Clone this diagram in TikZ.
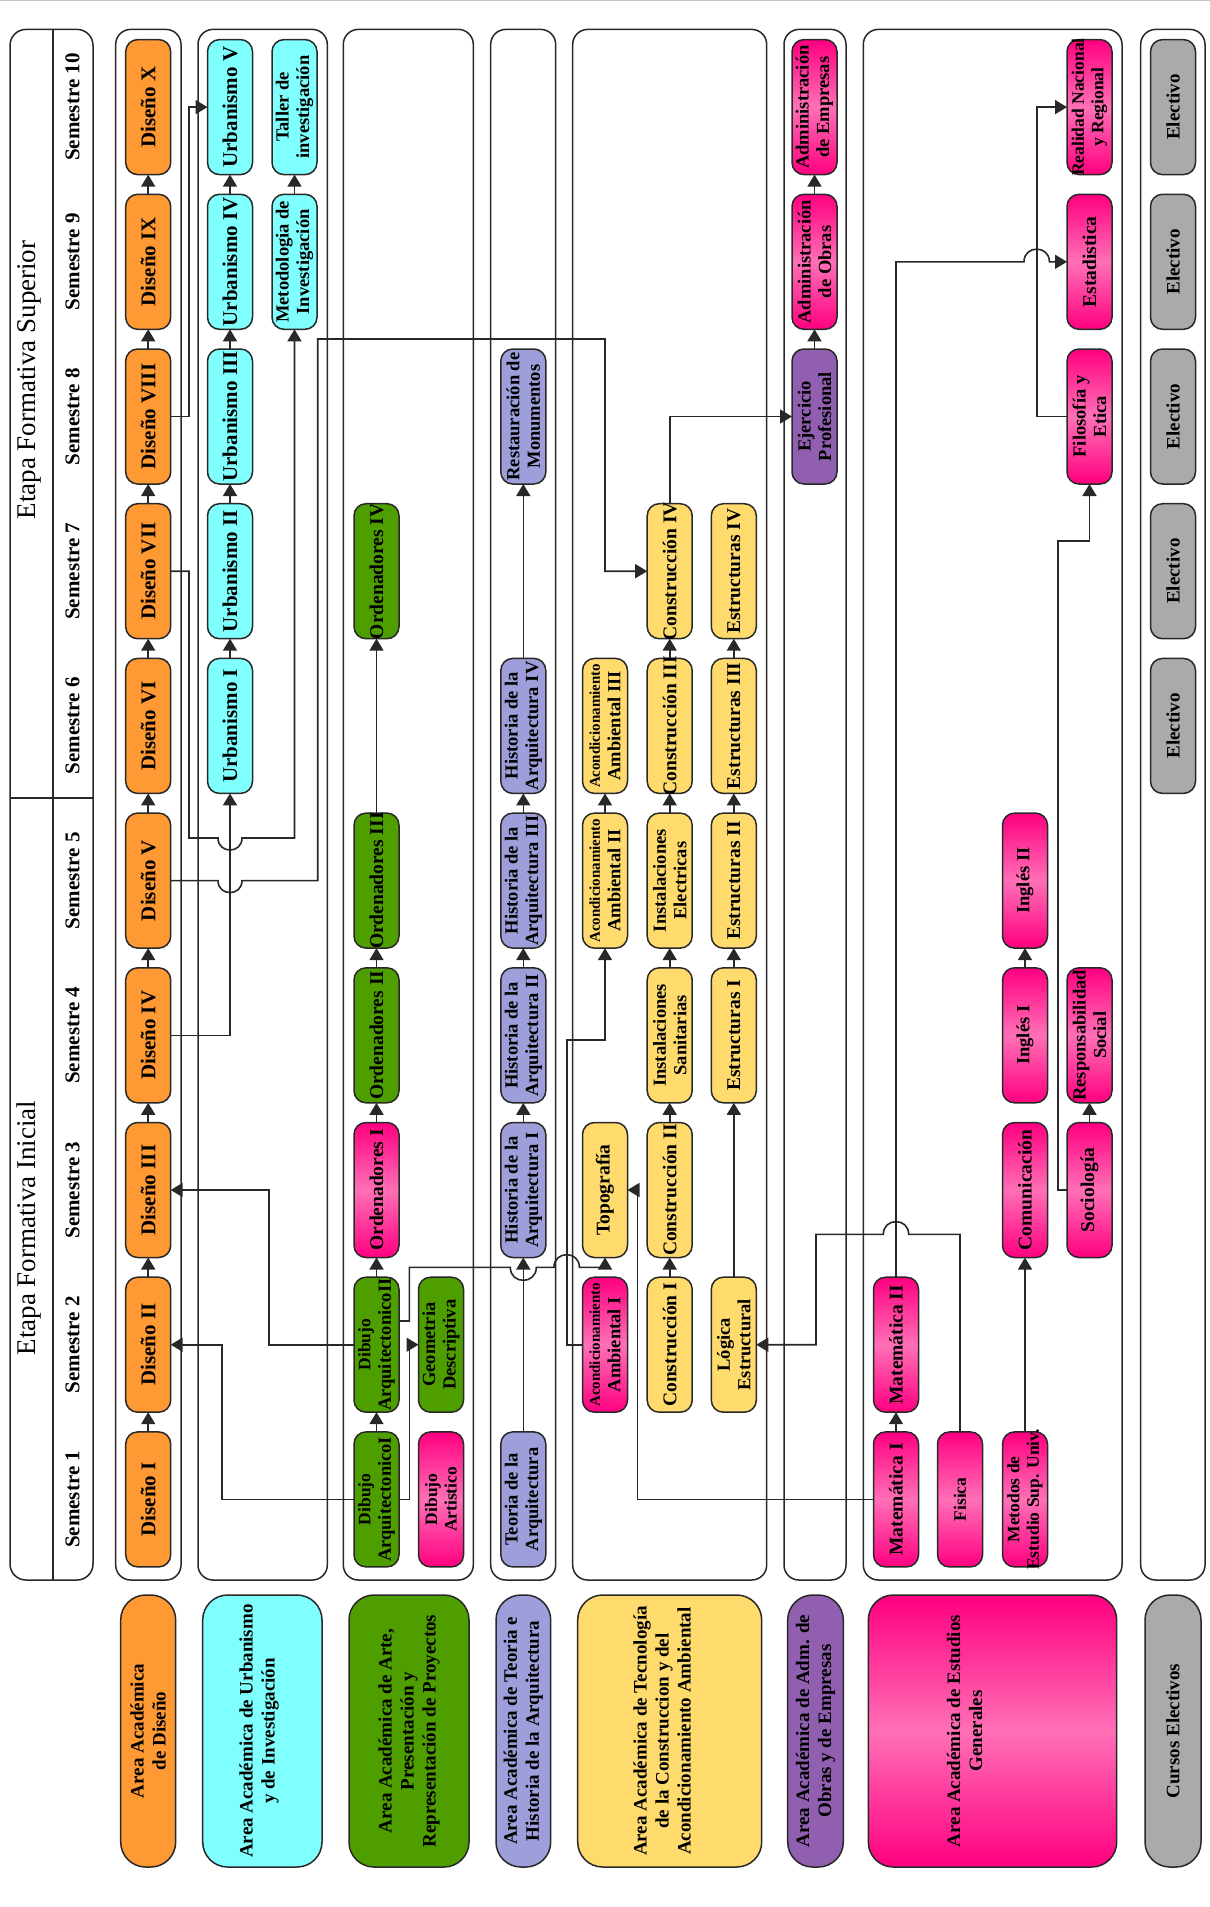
\documentclass[tikz,border=0pt]{standalone}
\usepackage{fontspec}
\setmainfont{Liberation Serif}
\usetikzlibrary{arrows.meta}
\definecolor{cOr}{RGB}{255,153,51}
\definecolor{cCy}{RGB}{128,255,255}
\definecolor{cGr}{RGB}{79,158,0}
\definecolor{cMgD}{RGB}{255,0,128}
\definecolor{cMgL}{RGB}{255,112,182}
\definecolor{cLv}{RGB}{158,158,218}
\definecolor{cYe}{RGB}{255,219,110}
\definecolor{cPu}{RGB}{145,95,175}
\definecolor{cGy}{RGB}{170,170,170}
\definecolor{cLn}{RGB}{40,40,40}
\newcommand\myfA{\fontsize{21}{23}\selectfont\bfseries}
\newcommand\myfB{\fontsize{19.5}{21.5}\selectfont\bfseries}
\newcommand\myfC{\fontsize{18.5}{20.5}\selectfont\bfseries}
\newcommand\myfD{\fontsize{17.5}{19.5}\selectfont\bfseries}
\newcommand\myfE{\fontsize{15}{17}\selectfont\bfseries}
\newcommand\myfL{\fontsize{19}{22}\selectfont\bfseries}
\newcommand\myfH{\fontsize{27}{30}\selectfont}
\tikzset{
 cbox/.style={draw=cLn, line width=1.5pt, rounded corners=12pt, minimum width=45pt, minimum height=135pt, inner sep=0pt, outer sep=0pt},
 bOr/.style={cbox, fill=cOr},
 bCy/.style={cbox, fill=cCy},
 bGr/.style={cbox, fill=cGr},
 bMg/.style={cbox, top color=cMgD, bottom color=cMgD, middle color=cMgL},
 bLv/.style={cbox, fill=cLv},
 bYe/.style={cbox, fill=cYe},
 bPu/.style={cbox, fill=cPu},
 bGy/.style={cbox, fill=cGy},
 txt/.style={rotate=90, align=center, inner sep=0pt, text=black},
 con/.style={draw=cLn, line width=1.6pt, -{Triangle[length=12pt,width=14pt]}},
 panel/.style={draw=cLn, line width=1.5pt, rounded corners=15pt},
 lgb/.style={draw=cLn, line width=1.5pt, rounded corners=25pt, minimum height=272pt, inner sep=0pt},
}
\newcommand\crs[6]{\node[#4] (#1) at (#2,#3) {}; \node[txt,font=#5] (#1-t) at (#1.center) {#6};}
\begin{document}
\begin{tikzpicture}[x=1pt,y=-1pt]
\fill[white] (0,0) rectangle (1210,1907);
\useasboundingbox (0,0) rectangle (1210,1907);
\draw[gray!45, line width=1.2pt] (0,0.8) -- (1210,0.8);
% header
\draw[panel, rounded corners=16pt] (10,29.4) rectangle (93,1580);
\draw[cLn,line width=1.5pt] (53,29.4) -- (53,1580);
\draw[cLn,line width=1.5pt] (10,798) -- (93,798);
\node[txt,font=\myfH] (et1) at (29,380) {Etapa Formativa Superior};
\node[txt,font=\myfH] (et2) at (29,1228) {Etapa Formativa Inicial};
\foreach \k/\yy in {1/1499.4,2/1344.7,3/1190.0,4/1035.3,5/880.6,6/725.9,7/571.2,8/416.5,9/261.8,10/107.1}
  \node[txt,font=\myfA] (s\k) at (72.5,\yy) {Semestre \k};
% panels
\draw[panel] (115.7,29.4) rectangle (181,1580);
\draw[panel] (198,29.4) rectangle (327.3,1580);
\draw[panel] (343.3,29.4) rectangle (473.3,1580);
\draw[panel] (490.7,29.4) rectangle (555.7,1580);
\draw[panel] (572.7,29.4) rectangle (766.7,1580);
\draw[panel] (784,29.4) rectangle (846,1580);
\draw[panel] (863.3,29.4) rectangle (1122,1580);
\draw[panel] (1140.7,29.4) rectangle (1205,1580);
% Diseno
\crs{d1}{148.2}{1499.4}{bOr}{\myfA}{Diseño I}
\crs{d2}{148.2}{1344.7}{bOr}{\myfA}{Diseño II}
\crs{d3}{148.2}{1190.0}{bOr}{\myfA}{Diseño III}
\crs{d4}{148.2}{1035.3}{bOr}{\myfA}{Diseño IV}
\crs{d5}{148.2}{880.6}{bOr}{\myfA}{Diseño V}
\crs{d6}{148.2}{725.9}{bOr}{\myfA}{Diseño VI}
\crs{d7}{148.2}{571.2}{bOr}{\myfA}{Diseño VII}
\crs{d8}{148.2}{416.5}{bOr}{\myfA}{Diseño VIII}
\crs{d9}{148.2}{261.8}{bOr}{\myfA}{Diseño IX}
\crs{d10}{148.2}{107.1}{bOr}{\myfA}{Diseño X}
% Urbanismo
\crs{u1}{230}{725.9}{bCy}{\myfA}{Urbanismo I}
\crs{u2}{230}{571.2}{bCy}{\myfA}{Urbanismo II}
\crs{u3}{230}{416.5}{bCy}{\myfA}{Urbanismo III}
\crs{u4}{230}{261.8}{bCy}{\myfA}{Urbanismo IV}
\crs{u5}{230}{107.1}{bCy}{\myfA}{Urbanismo V}
\crs{mtd}{294.5}{261.8}{bCy}{\myfC}{Metodologia de\\Investigación}
\crs{tal}{294.5}{107.1}{bCy}{\myfC}{Taller de\\investigación}
% Arte
\crs{ar1}{376.5}{1499.4}{bGr}{\myfC}{{\myfD Dibujo}\\ArquitectonicoI}
\crs{ar2}{376.5}{1344.7}{bGr}{\myfC}{{\myfD Dibujo}\\ArquitectonicoII}
\crs{or1}{376.5}{1190.0}{bMg}{\myfB}{Ordenadores I}
\crs{or2}{376.5}{1035.3}{bGr}{\myfB}{Ordenadores II}
\crs{or3}{376.5}{880.6}{bGr}{\myfB}{Ordenadores III}
\crs{or4}{376.5}{571.2}{bGr}{\myfB}{Ordenadores IV}
\crs{da}{441}{1499.4}{bMg}{\myfD}{Dibujo\\Artistico}
\crs{gd}{441}{1344.7}{bGr}{\myfC}{Geometria\\Descriptiva}
% Teoria
\crs{teo}{523.3}{1499.4}{bLv}{\myfC}{Teoria de la\\Arquitectura}
\crs{h1}{523.3}{1190.0}{bLv}{\myfC}{Historia de la\\Arquitectura I}
\crs{h2}{523.3}{1035.3}{bLv}{\myfC}{Historia de la\\Arquitectura II}
\crs{h3}{523.3}{880.6}{bLv}{\myfC}{Historia de la\\Arquitectura III}
\crs{h4}{523.3}{725.9}{bLv}{\myfC}{Historia de la\\Arquitectura IV}
\crs{res}{523.3}{416.5}{bLv}{\myfC}{Restauración de\\Monumentos}
% Tecnologia
\crs{ac1}{605}{1344.7}{bMg}{\myfC}{{\myfE Acondicionamiento}\\Ambiental I}
\crs{topo}{605}{1190.0}{bYe}{\myfB}{Topografía}
\crs{ac2}{605}{880.6}{bYe}{\myfC}{{\myfE Acondicionamiento}\\Ambiental II}
\crs{ac3}{605}{725.9}{bYe}{\myfC}{{\myfE Acondicionamiento}\\Ambiental III}
\crs{co1}{669.7}{1344.7}{bYe}{\myfB}{Construcción I}
\crs{co2}{669.7}{1190.0}{bYe}{\myfB}{Construcción II}
\crs{isa}{669.7}{1035.3}{bYe}{\myfC}{Instalaciones\\Sanitarias}
\crs{iel}{669.7}{880.6}{bYe}{\myfC}{Instalaciones\\Electricas}
\crs{co3}{669.7}{725.9}{bYe}{\myfB}{Construcción III}
\crs{co4}{669.7}{571.2}{bYe}{\myfB}{Construcción IV}
\crs{le}{733.8}{1344.7}{bYe}{\myfC}{Lógica\\Estructural}
\crs{e1}{733.8}{1035.3}{bYe}{\myfB}{Estructuras I}
\crs{e2}{733.8}{880.6}{bYe}{\myfB}{Estructuras II}
\crs{e3}{733.8}{725.9}{bYe}{\myfB}{Estructuras III}
\crs{e4}{733.8}{571.2}{bYe}{\myfB}{Estructuras IV}
% Adm
\crs{ej}{814.5}{416.5}{bPu}{\myfC}{Ejercicio\\Profesional}
\crs{ao}{814.5}{261.8}{bMg}{\myfC}{Administración\\de Obras}
\crs{ae}{814.5}{107.1}{bMg}{\myfC}{Administración\\de Empresas}
% Estudios generales
\crs{m1}{896}{1499.4}{bMg}{\myfB}{Matemática I}
\crs{m2}{896}{1344.7}{bMg}{\myfB}{Matemática II}
\crs{fi}{960}{1499.4}{bMg}{\myfD}{Fisica}
\crs{mes}{1025}{1499.4}{bMg}{\myfD}{Metodos de\\Estudio Sup. Univ.}
\crs{com}{1025}{1190.0}{bMg}{\myfB}{Comunicación}
\crs{in1}{1025}{1035.3}{bMg}{\myfC}{Inglés I}
\crs{in2}{1025}{880.6}{bMg}{\myfC}{Inglés II}
\crs{soc}{1089.5}{1190.0}{bMg}{\myfB}{Sociología}
\crs{rs}{1089.5}{1035.3}{bMg}{\myfC}{Responsabilidad\\Social}
\crs{fe}{1089.5}{416.5}{bMg}{\myfC}{Filosofía y\\Etica}
\crs{est}{1089.5}{261.8}{bMg}{\myfB}{Estadistica}
\crs{rn}{1089.5}{107.1}{bMg}{\myfD}{Realidad Nacional\\y Regional}
% Electivos
\crs{el6}{1173}{725.9}{bGy}{\myfL}{Electivo}
\crs{el7}{1173}{571.2}{bGy}{\myfL}{Electivo}
\crs{el8}{1173}{416.5}{bGy}{\myfL}{Electivo}
\crs{el9}{1173}{261.8}{bGy}{\myfL}{Electivo}
\crs{el10}{1173}{107.1}{bGy}{\myfL}{Electivo}
% straight connectors
\foreach \a/\b in {d1/d2,d2/d3,d3/d4,d4/d5,d5/d6,d6/d7,d7/d8,d8/d9,d9/d10,
  u1/u2,u2/u3,u3/u4,u4/u5,mtd/tal,ar1/ar2,ar2/or1,or1/or2,or2/or3,or3/or4,
  teo/h1,h1/h2,h2/h3,h3/h4,h4/res,ac2/ac3,co1/co2,co2/isa,isa/iel,iel/co3,co3/co4,
  le/e1,e1/e2,e2/e3,e3/e4,ej/ao,ao/ae,m1/m2,mes/com,in1/in2,soc/rs}
  \draw[con] (\a.north) -- (\b.south);
% routed connectors
\draw[con] (d4.east) -- (230,1035.3) -- (u1.south);
\draw[con] (d7.east) -- (189,571.2) -- (189,838) -- (218,838) .. controls (218,854) and (242,854) .. (242,838) -- (294.5,838) -- (mtd.south);
\draw[con] (d5.east) -- (218,880.6) .. controls (218,896.6) and (242,896.6) .. (242,880.6) -- (317.7,880.6) -- (317.7,339) -- (605,339) -- (605,571.2) -- (co4.west);
\draw[con] (d8.east) -- (189,416.5) -- (189,107.1) -- (u5.west);
\draw[con] (co4.north) -- (669.7,416.5) -- (ej.west);
\draw[con] (ar1.west) -- (221.7,1499.4) -- (221.7,1344.7) -- (d2.east);
\draw[con] (ar2.west) -- (268.7,1344.7) -- (268.7,1190) -- (d3.east);
\draw[con] (ar1.east) -- (409.3,1499.4) -- (409.3,1344.7) -- (gd.west);
\draw[con] ([yshift=23.7pt]ar2.east) -- (409.3,1321) -- (409.3,1267.3) -- (510.3,1267.3) .. controls (510.3,1284.7) and (536.3,1284.7) .. (536.3,1267.3) -- (554,1267.3) .. controls (554,1250.4) and (579.4,1250.4) .. (579.4,1267.3) -- (605,1267.3) -- (topo.south);
\draw[con] (m1.west) -- (637.3,1499.4) -- (637.3,1190) -- (topo.east);
\draw[con] (m2.north) -- (896,261.8) -- (1024,261.8) .. controls (1024,244.9) and (1049.4,244.9) .. (1049.4,261.8) -- (est.west);
\draw[con] (fi.north) -- (960,1234.3) -- (908.7,1234.3) .. controls (908.7,1217.4) and (883.3,1217.4) .. (883.3,1234.3) -- (816,1234.3) -- (816,1344.7) -- (le.east);
\draw[con] (soc.west) -- (1057.7,1190) -- (1057.7,540.8) -- (1089.5,540.8) -- (fe.south);
\draw[con] (fe.west) -- (1036.7,416.5) -- (1036.7,107.1) -- (rn.west);
\draw[con] (ac1.west) -- (566.7,1344.7) -- (566.7,1040) -- (605,1040) -- (ac2.south);
% legend
\node[lgb, fill=cOr, minimum width=55pt] (lg1) at (148.2,1731) {};
\node[txt,font=\myfL] (lg1-t) at (lg1.center) {Area Académica\\de Diseño};
\node[lgb, fill=cCy, minimum width=119.3pt] (lg2) at (262.35,1731) {};
\node[txt,font=\myfL] (lg2-t) at (259,1731) {Area Académica de Urbanismo\\y de Investigación};
\node[lgb, fill=cGr, minimum width=120pt] (lg3) at (409,1731) {};
\node[txt,font=\myfL] (lg3-t) at (lg3.center) {Area Académica de Arte,\\Presentación y\\Representación de Proyectos};
\node[lgb, fill=cLv, minimum width=54.7pt] (lg4) at (523.35,1731) {};
\node[txt,font=\myfL] (lg4-t) at (lg4.center) {Area Académica de Teoria e\\Historia de la Arquitectura};
\node[lgb, fill=cYe, minimum width=184pt] (lg5) at (669.7,1731) {};
\node[txt,font=\myfL] (lg5-t) at (662,1731) {Area Académica de Tecnología\\de la Construccion y del\\Acondicionamiento Ambiental};
\node[lgb, fill=cPu, minimum width=55.6pt] (lg6) at (815.5,1731) {};
\node[txt,font=\myfL] (lg6-t) at (lg6.center) {Area Académica de Adm. de\\Obras y de Empresas};
\node[lgb, top color=cMgD, bottom color=cMgD, middle color=cMgL, minimum width=248.4pt] (lg7) at (992.5,1731) {};
\node[txt,font=\myfL] (lg7-t) at (964.5,1731) {Area Académica de Estudios\\Generales};
\node[lgb, fill=cGy, minimum width=56pt] (lg8) at (1173,1731) {};
\node[txt,font=\myfL] (lg8-t) at (lg8.center) {Cursos Electivos};
\end{tikzpicture}
\end{document}
